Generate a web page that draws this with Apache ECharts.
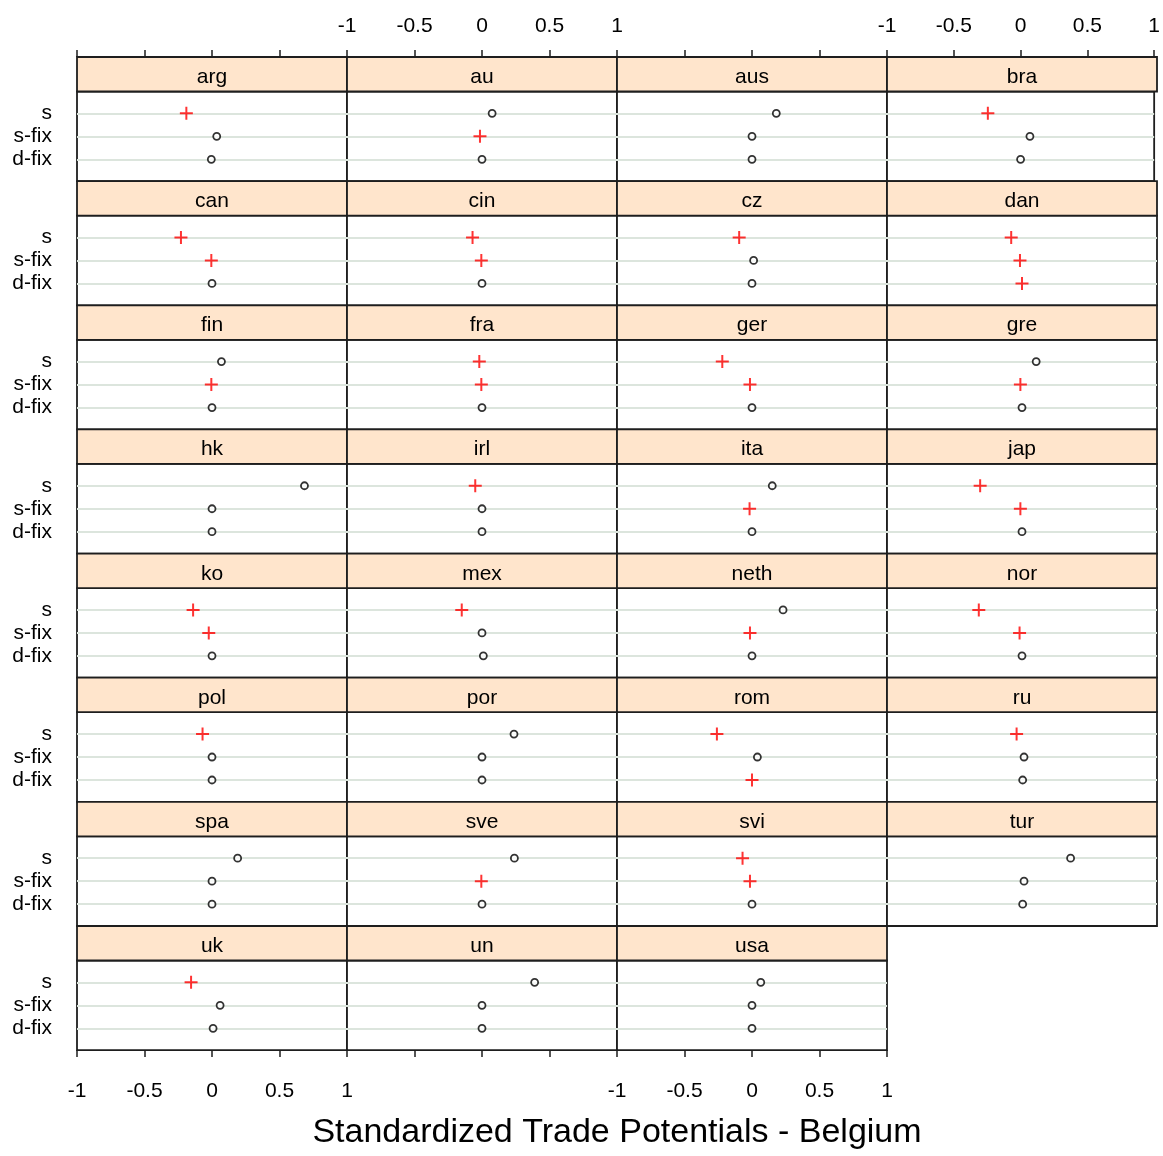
<!DOCTYPE html>
<html>
<head>
<meta charset="utf-8">
<title>Standardized Trade Potentials - Belgium</title>
<script src="https://cdn.jsdelivr.net/npm/echarts@6/dist/echarts.min.js"></script>
<style>
  html, body { margin: 0; padding: 0; background: #fff; }
  #chart { width: 1163px; height: 1156px; }
</style>
</head>
<body>
<div id="chart"></div>
<script>
// Panels (one per partner country), in reading order
const countries = ['arg', 'au', 'aus', 'bra', 'can', 'cin', 'cz', 'dan',
  'fin', 'fra', 'ger', 'gre', 'hk', 'irl', 'ita', 'jap',
  'ko', 'mex', 'neth', 'nor', 'pol', 'por', 'rom', 'ru',
  'spa', 'sve', 'svi', 'tur', 'uk', 'un', 'usa'];

// Estimation methods shown as rows inside every panel
const measures = ['s', 's-fix', 'd-fix'];

// Standardized trade potentials per method
const sValues = [-0.19, 0.075, 0.18, -0.245, -0.23, -0.07, -0.095, -0.08,
  0.07, -0.02, -0.22, 0.105, 0.685, -0.05, 0.15, -0.31,
  -0.14, -0.15, 0.23, -0.32, -0.07, 0.237, -0.26, -0.04,
  0.19, 0.24, -0.07, 0.36, -0.155, 0.39, 0.065];
const sFixValues = [0.035, -0.015, 0.0, 0.07, -0.005, -0.005, 0.012, -0.015,
  -0.005, -0.005, -0.015, -0.012, 0.0, 0.0, -0.018, -0.012,
  -0.024, 0.0, -0.015, -0.018, 0.0, 0.0, 0.04, 0.015,
  0.0, -0.005, -0.015, 0.015, 0.06, 0.0, 0.0];
const dFixValues = [-0.005, 0.0, 0.0, 0.0, 0.0, 0.0, 0.0, 0.0,
  0.0, 0.0, 0.0, 0.0, 0.0, 0.0, 0.0, 0.0,
  0.0, 0.01, 0.0, 0.0, 0.0, 0.0, 0.0, 0.005,
  0.0, 0.0, 0.0, 0.005, 0.008, 0.0, 0.0];

// 1 = flagged estimate (red cross), 0 = regular estimate (open circle)
const sFlags = [1, 0, 0, 1, 1, 1, 1, 1, 0, 1, 1, 0, 0, 1, 0, 1,
  1, 1, 0, 1, 1, 0, 1, 1, 0, 0, 1, 0, 1, 0, 0];
const sFixFlags = [0, 1, 0, 0, 1, 1, 0, 1, 1, 1, 1, 1, 0, 0, 1, 1,
  1, 0, 1, 1, 0, 0, 0, 0, 0, 1, 1, 0, 0, 0, 0];
const dFixFlags = [0, 0, 0, 0, 0, 0, 0, 1, 0, 0, 0, 0, 0, 0, 0, 0,
  0, 0, 0, 0, 0, 0, 1, 0, 0, 0, 0, 0, 0, 0, 0];

// x axis range and tick step
const xMin = -1, xMax = 1, xStep = 0.5;

const valuesByMeasure = [sValues, sFixValues, dFixValues];
const flagsByMeasure = [sFlags, sFixFlags, dFixFlags];

// ---- layout ----
const FONT = '"Liberation Sans", Arial, Helvetica, sans-serif';
const nCols = 4;
const nRows = Math.ceil(countries.length / nCols);
const left0 = 77, top0 = 57;
const panelW = 270;
const stripH = 34.5;
const panelH = 89.64;
const rowPitch = stripH + panelH;
const lineCol = '#1e1e1e';
const lineW = 1.8;

// plus sign drawn as two stroked strokes
const plusPath = 'path://M0,6L12,6M6,0L6,12';

const grids = [], xAxes = [], yAxes = [], series = [], graphics = [];

countries.forEach((name, i) => {
  const r = Math.floor(i / nCols);
  const c = i % nCols;
  const x = left0 + c * panelW;
  const stripTop = top0 + r * rowPitch;
  const top = stripTop + stripH;
  const isTop = r === 0;
  const isBottom = r === nRows - 1;

  grids.push({
    left: x, top: top, width: panelW, height: panelH,
    show: true, borderColor: lineCol, borderWidth: lineW,
    backgroundColor: '#ffffff'
  });

  xAxes.push({
    gridIndex: i, type: 'value', min: xMin, max: xMax, interval: xStep,
    show: isTop || isBottom,
    position: isTop ? 'top' : 'bottom',
    offset: isTop ? stripH : 0,
    axisLine: { show: false },
    splitLine: { show: false },
    axisTick: { show: true, inside: false, length: 7, lineStyle: { color: lineCol, width: 1.5 } },
    axisLabel: {
      show: isTop ? (c % 2 === 1) : (c % 2 === 0),
      showMinLabel: true, showMaxLabel: true,
      margin: isTop ? 20 : 31,
      color: '#000', fontSize: 21, fontFamily: FONT,
      formatter: v => String(v)
    }
  });

  yAxes.push({
    gridIndex: i, type: 'value', min: 0.05, max: 3.95, inverse: true,
    position: c === nCols - 1 ? 'right' : 'left',
    axisLine: { show: false },
    splitLine: { show: false },
    axisTick: {
      show: c === 0 || c === nCols - 1,
      customValues: [1, 2, 3],
      length: 7, lineStyle: { color: lineCol, width: 1.5 }
    },
    axisLabel: {
      show: c === 0,
      customValues: [1, 2, 3],
      margin: 25, color: '#000', fontSize: 21, fontFamily: FONT,
      formatter: v => measures[Math.round(v) - 1]
    }
  });

  // light reference lines for each method row, kept beneath the points
  series.push({
    type: 'scatter', xAxisIndex: i, yAxisIndex: i, data: [], z: 1,
    silent: true,
    markLine: {
      z: 1,
      silent: true, symbol: 'none', label: { show: false },
      lineStyle: { color: '#dce5dd', width: 2, type: 'solid' },
      emphasis: { disabled: true },
      data: measures.map((m, k) => ({ yAxis: k + 1 }))
    }
  });

  // points
  series.push({
    type: 'scatter', xAxisIndex: i, yAxisIndex: i, z: 6, silent: true,
    data: measures.map((m, k) => {
      const flagged = flagsByMeasure[k][i] === 1;
      return {
        value: [valuesByMeasure[k][i], k + 1],
        symbol: flagged ? plusPath : 'circle',
        symbolSize: flagged ? 13 : 7,
        itemStyle: flagged
          ? { color: 'none', borderColor: '#ff0000', borderWidth: 2 }
          : { color: '#ffffff', borderColor: '#000000', borderWidth: 1.8 }
      };
    })
  });

  // strip with country name
  graphics.push({
    type: 'rect', z: 10,
    shape: { x: x, y: stripTop, width: panelW, height: stripH },
    style: { fill: '#ffe5cc', stroke: lineCol, lineWidth: lineW }
  });
  graphics.push({
    type: 'text', z: 11,
    x: x + panelW / 2, y: stripTop + stripH / 2 + 3,
    style: {
      text: name, fill: '#000', font: '21px ' + FONT,
      align: 'center', verticalAlign: 'middle'
    }
  });
});

// axis title
graphics.push({
  type: 'text', z: 11,
  x: left0 + nCols * panelW / 2, y: 1133,
  style: {
    text: 'Standardized Trade Potentials - Belgium', fill: '#000',
    font: '34px ' + FONT, align: 'center', verticalAlign: 'middle'
  }
});

const chart = echarts.init(document.getElementById('chart'), null, { renderer: 'canvas' });
chart.setOption({
  backgroundColor: '#ffffff',
  animation: false,
  grid: grids,
  xAxis: xAxes,
  yAxis: yAxes,
  series: series,
  graphic: graphics
});
</script>
</body>
</html>
